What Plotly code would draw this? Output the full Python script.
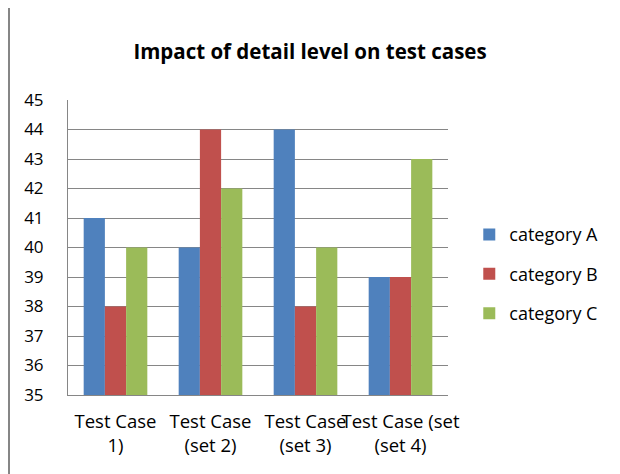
import plotly.graph_objects as go

# test cases (x categories) and their wrapped labels as shown in the chart
cases = ["Test Case (set 1)", "Test Case (set 2)", "Test Case (set 3)", "Test Case (set 4)"]
case_labels = ["Test Case<br>1)", "Test Case<br>(set 2)", "Test Case<br>(set 3)", "Test Case (set<br>(set 4)"]

cat_a = [41, 40, 44, 39]
cat_b = [38, 44, 38, 39]
cat_c = [40, 42, 40, 43]

series = [("category A", cat_a, "#4F81BD"),
          ("category B", cat_b, "#C0504D"),
          ("category C", cat_c, "#9BBB59")]

fig = go.Figure()
for name, vals, col in series:
    fig.add_trace(go.Bar(x=cases, y=vals, name=name, marker_color=col,
                         marker_line_width=0, legendgroup=name))

# page body adds 8px, so the figure is 8px smaller and margins shifted
W, H = 612, 466
font = "'Open Sans', sans-serif"
fig.update_layout(
    width=W, height=H,
    margin=dict(l=60, r=172, t=92, b=79),
    paper_bgcolor="white", plot_bgcolor="white",
    font=dict(family=font, size=16, color="black"),
    title=dict(text="<b>Impact of detail level on test cases</b>",
               x=302 / W, xref="container", xanchor="center",
               y=1 - 44 / H, yref="container", yanchor="middle",
               font=dict(size=20.5, color="black")),
    barmode="group", bargap=0.33, bargroupgap=0,
    legend=dict(x=1.056, y=0.606, xanchor="left", yanchor="top",
                traceorder="grouped", tracegroupgap=13,
                font=dict(size=18), itemwidth=30, bgcolor="rgba(0,0,0,0)"),
)
fig.update_xaxes(tickvals=cases, ticktext=case_labels, showline=True,
                 linecolor="#868686", linewidth=1, ticks="", showgrid=False,
                 tickangle=0, automargin=False,
                 ticklabelstandoff=10, tickfont=dict(size=18.5))
fig.update_yaxes(range=[35, 45], dtick=1, showgrid=True, gridcolor="#868686",
                 gridwidth=1, showline=True, linecolor="#868686", linewidth=1,
                 ticks="", ticklabelstandoff=20, tickfont=dict(size=17),
                 automargin=False, zeroline=False)

# chart outer border on the left
fig.add_shape(type="line", xref="paper", yref="paper",
              x0=-59 / 380, x1=-59 / 380, y0=-79 / 295, y1=1 + 92 / 295,
              line=dict(color="#868686", width=2))

fig.write_html("out.html")
